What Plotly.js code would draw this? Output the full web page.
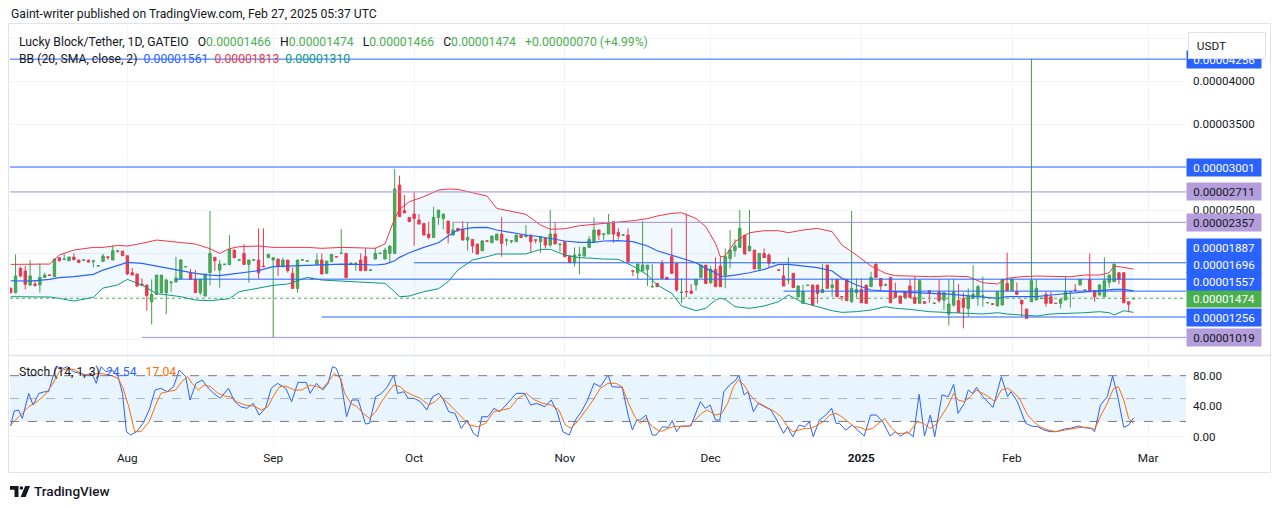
<!DOCTYPE html>
<html><head><meta charset="utf-8">
<script src="https://cdn.plot.ly/plotly-3.0.1.min.js"></script>
<style>html,body{margin:0;padding:0;background:#fff;}#chart{width:1281px;height:508px;}</style>
</head><body><div id="chart"></div>
<script>
// ---------- DATA (prices in micro-USDT, i.e. x 1e-6) ----------
const firstBarDate = '2024-07-08';
const missingDays = ['2024-08-20', '2024-09-20'];   // calendar days without a bar (time scale skips them)
const open = [15.9,15.4,18.22,17.91,16.28,16.39,16.28,17.17,17.46,17.25,
19.46,19.25,19.11,19.53,19.19,19.17,19.15,19.05,18.48,19.03,
19.57,19.19,20.22,20.23,19.69,17.71,17.56,16.39,16.28,14.34,
15.19,15.39,15.39,16.55,16.63,16.98,18.39,17.71,16.94,15.39,
15.00,17.71,19.50,18.02,18.67,18.64,20.35,19.17,19.96,18.68,
19.17,19.19,18.49,19.46,19.19,19.30,18.41,19.19,17.64,15.89,
19.17,19.05,17.06,18.68,19.19,17.64,18.99,19.59,19.94,19.96,
18.78,18.78,19.19,19.57,18.00,19.30,19.94,19.30,19.96,19.96,
27.91,24.93,24.15,24.54,23.84,23.45,22.21,21.82,24.15,24.03,
23.72,22.09,22.87,22.75,21.51,21.59,21.05,20.27,21.42,21.20,
21.51,22.21,21.49,21.38,21.32,22.09,21.90,22.09,21.54,21.32,
21.71,20.93,22.21,20.99,21.32,19.65,18.88,19.75,19.65,20.66,
21.32,22.68,22.19,22.21,23.65,22.40,22.07,22.09,17.94,17.71,
17.91,18.10,16.06,16.47,18.80,17.17,19.57,18.80,15.41,15.53,
15.58,16.28,17.17,18.60,16.55,18.10,18.49,17.44,19.38,20.27,
20.66,22.09,20.27,20.35,18.14,19.96,19.77,18.84,18.04,17.33,
16.86,17.64,14.92,14.15,16.22,16.28,16.28,15.39,18.60,15.97,
16.94,14.94,16.94,14.34,15.39,15.77,16.28,16.09,18.72,17.05,
16.26,17.17,15.50,15.00,15.50,16.16,14.84,14.15,14.34,15.62,
14.13,15.50,14.53,12.90,13.95,14.46,14.73,13.56,14.73,14.92,
14.98,14.20,14.09,13.87,13.95,16.47,15.62,15.50,14.53,13.49,
14.34,14.53,14.70,15.19,14.92,14.17,14.15,14.53,15.48,15.70,
16.28,15.66,16.94,15.62,15.11,14.92,16.59,16.67,17.71,17.71,
14.34,14.66];
const high = [16.0,19.85,18.41,18.49,19.19,16.78,18.80,17.71,17.50,19.38,
19.50,19.96,19.60,19.96,19.20,19.22,19.26,19.19,18.53,19.92,
19.57,20.89,20.25,20.23,19.69,18.26,17.56,17.05,16.28,16.94,
17.44,17.44,17.05,16.63,19.57,19.30,18.44,18.14,18.02,16.94,
17.56,24.89,19.50,19.19,18.70,22.09,20.35,19.22,21.05,19.19,
19.22,22.87,22.87,19.85,19.46,19.30,19.46,19.19,18.33,19.19,
19.22,19.10,17.07,19.96,19.96,19.07,19.85,19.60,22.79,19.96,
18.83,18.82,19.96,20.54,18.05,20.62,19.99,20.62,20.82,29.77,
29.00,26.75,24.15,27.06,24.54,23.45,23.65,25.39,25.00,24.54,
23.72,23.65,22.87,23.72,23.61,21.59,21.05,21.51,21.44,21.98,
22.21,24.15,21.71,21.51,22.09,22.09,23.26,22.09,21.56,21.90,
21.71,25.00,23.65,21.10,21.32,19.65,20.66,20.74,20.66,21.98,
24.15,22.68,22.29,24.54,23.65,22.87,22.12,22.87,17.95,18.72,
23.72,18.60,18.72,16.47,19.19,17.17,22.87,18.80,17.05,24.62,
16.39,16.94,18.60,18.60,18.49,19.50,19.57,20.54,22.68,21.59,
25.00,22.09,25.00,20.35,19.96,20.54,19.96,18.89,18.05,18.72,
19.50,17.64,16.28,16.28,16.27,16.28,16.28,18.72,18.60,17.05,
16.94,14.94,16.94,24.89,17.05,17.05,16.28,17.83,18.72,17.05,
16.47,17.17,16.55,15.00,15.50,16.94,17.25,16.94,14.34,15.62,
14.18,16.94,15.50,16.94,16.94,16.39,15.39,15.89,18.60,16.28,
17.25,14.25,14.10,15.50,16.94,20.04,17.05,16.59,14.53,13.49,
42.56,16.94,14.75,15.50,15.50,14.18,14.61,17.25,15.53,16.39,
16.94,15.71,19.96,15.62,16.39,19.50,17.44,18.72,17.71,17.71,
14.34,14.74];
const low = [15.3,15.3,17.17,15.77,16.16,16.09,15.39,17.17,17.35,17.25,
18.99,19.19,19.05,19.20,18.90,19.15,18.95,18.33,18.47,19.03,
19.19,19.19,20.04,19.69,17.44,17.44,16.09,16.16,13.29,11.70,
15.11,15.31,12.87,15.50,16.63,16.98,18.38,16.94,15.39,15.11,
15.00,16.24,17.95,15.97,18.67,18.64,19.46,19.15,18.68,16.55,
19.16,17.01,18.41,19.46,10.20,17.33,18.41,17.71,15.89,15.39,
19.15,19.04,16.99,18.68,17.56,17.64,18.99,19.54,19.94,17.13,
18.77,17.95,17.95,17.95,17.99,19.30,19.93,19.30,18.80,19.96,
24.23,24.60,23.65,20.85,23.37,22.09,21.63,21.82,23.26,22.75,
21.13,22.09,22.48,21.51,20.27,20.04,19.88,20.27,21.34,21.20,
21.51,19.57,20.85,21.13,21.32,21.71,21.90,20.04,21.13,20.04,
20.54,20.74,21.05,20.16,19.57,18.88,18.41,17.52,19.57,20.66,
21.32,21.51,21.51,22.21,21.20,21.59,22.06,18.99,17.33,16.94,
17.91,16.16,16.00,16.09,17.05,16.94,17.64,15.50,14.15,14.84,
15.31,15.62,17.17,16.39,16.39,16.09,16.09,15.89,18.22,19.57,
20.66,19.88,20.16,18.14,18.14,19.46,18.33,18.83,17.99,16.16,
16.39,15.97,14.84,14.15,16.21,13.95,14.15,15.39,15.89,14.92,
14.92,14.46,14.46,14.22,14.84,14.22,14.15,16.09,17.17,15.58,
16.16,14.22,14.84,14.15,14.84,14.84,14.15,14.15,14.15,14.22,
14.12,14.22,13.37,11.55,13.76,13.10,11.24,12.59,14.73,13.87,
13.76,14.19,14.04,13.76,13.95,15.62,15.62,15.19,12.59,12.40,
14.34,14.53,14.69,13.76,14.15,14.12,13.56,14.53,13.68,15.58,
16.28,15.65,15.50,14.34,15.11,14.92,15.97,16.67,16.39,14.22,
13.10,14.66];
const close = [15.4,17.33,17.33,16.36,17.33,16.24,17.17,17.44,17.40,19.30,
19.11,19.30,19.53,19.22,18.91,19.21,18.95,19.08,18.52,19.65,
19.49,20.27,20.25,19.69,17.56,17.44,16.16,16.24,15.04,15.19,
17.44,17.44,16.86,16.63,17.09,19.19,18.43,16.94,15.39,16.94,
17.56,19.96,19.11,18.72,18.70,20.39,19.46,19.21,18.68,19.19,
19.21,17.71,18.41,19.85,19.46,18.49,19.19,17.95,15.89,19.19,
19.21,19.09,17.00,19.19,17.56,19.07,19.85,19.55,19.98,17.13,
18.82,18.82,17.95,17.95,18.04,19.96,19.98,20.35,20.82,27.45,
24.23,24.69,23.65,24.03,23.37,22.09,21.82,24.15,25.00,24.54,
22.29,22.68,22.60,21.51,21.82,20.81,19.88,21.40,21.36,21.98,
22.21,21.13,21.53,21.42,22.09,21.82,22.09,21.32,21.50,21.90,
20.93,22.21,21.05,21.03,19.57,18.88,19.77,19.79,20.66,21.59,
22.68,22.09,22.23,23.53,22.21,21.98,22.11,18.99,17.90,18.72,
18.60,18.60,16.10,16.09,17.05,16.94,17.64,15.70,15.45,15.49,
15.31,16.94,18.60,16.47,18.10,16.09,16.09,19.57,20.35,20.81,
22.87,19.88,20.81,18.14,19.96,19.46,18.80,18.88,18.00,16.16,
16.90,15.97,16.16,15.50,16.26,13.95,15.31,15.77,15.89,16.28,
14.92,14.90,14.46,15.89,15.77,14.22,14.15,17.17,17.17,16.16,
16.30,14.22,14.84,14.15,14.84,14.84,14.15,16.78,14.15,15.39,
14.17,14.46,15.39,14.07,15.50,13.10,13.68,15.00,15.19,16.09,
15.02,14.24,14.05,15.50,16.94,15.62,16.94,15.19,14.07,12.40,
16.78,15.89,14.74,14.15,14.15,14.13,14.61,15.50,15.52,15.66,
16.94,15.70,15.50,14.92,16.28,16.78,17.44,18.72,16.94,14.22,
14.04,14.74];

// Bollinger Bands (20, SMA, close, 2); bar = bar number (0 = first bar)
const bbBar = [0,4,8,10,13,17,19,22,24,27,30,32,35,38,41,43,45,
47,51,54,57,61,64,68,71,75,77,79,80,82,85,88,90,
92,95,98,100,103,106,109,111,114,117,120,122,125,128,131,133,136,
138,141,143,145,146,147,149,152,155,158,160,163,166,169,171,174,177,180,182,
185,189,193,197,200,203,205,208,211,214,218,221,224,226,227,229,231];
const bbUpper = [18.68,18.68,18.72,19.77,20.35,20.66,20.66,20.89,20.82,21.13,21.51,21.40,21.20,21.05,20.51,19.96,20.51,
20.74,20.82,20.66,20.66,20.66,20.55,20.66,20.62,20.55,21.05,24.03,25.08,25.97,26.56,27.33,27.45,
27.41,27.02,26.63,25.20,24.81,24.50,23.26,22.76,22.83,23.18,23.34,23.45,23.57,23.76,24.00,24.31,24.62,
24.69,24.03,23.07,21.13,19.58,19.65,21.32,22.37,22.60,22.60,22.37,22.68,22.87,22.48,20.93,19.77,18.49,17.64,17.37,
17.33,17.25,17.33,17.25,16.55,16.40,17.06,17.25,17.33,17.33,17.25,17.44,17.44,17.71,18.49,18.33,18.13];
const bbBasis = [16.78,16.74,16.94,17.13,17.25,17.52,18.02,18.61,18.92,18.80,18.49,18.22,17.95,17.64,17.44,17.37,17.52,
17.64,17.95,18.41,18.49,18.61,18.68,18.72,18.68,18.61,18.72,19.11,19.50,20.04,20.66,21.20,21.98,
22.68,22.95,22.99,22.68,22.37,22.10,21.90,21.67,21.40,21.24,21.24,21.40,21.44,21.32,20.82,20.27,19.77,
19.38,18.88,18.22,17.71,17.33,17.29,17.44,17.71,18.10,18.68,18.68,18.49,18.30,17.91,17.06,16.28,15.70,15.58,15.50,
15.39,15.31,15.23,15.00,14.84,14.73,14.92,14.92,14.92,15.12,15.31,15.50,15.62,15.70,15.78,15.78,15.61];
const bbLower = [14.92,14.92,14.88,14.73,14.42,14.84,15.93,16.28,16.94,16.28,15.27,15.15,14.92,14.53,14.46,14.57,14.69,
15.50,15.89,16.24,16.40,17.17,16.86,16.74,16.63,16.55,16.47,15.50,14.92,15.00,15.50,15.85,16.67,
18.02,19.19,19.58,19.89,19.89,19.89,20.43,20.43,19.77,19.46,19.38,19.30,19.27,18.49,17.44,16.28,15.31,
13.84,13.29,13.57,14.53,14.73,14.61,13.76,13.57,13.84,14.34,15.12,14.22,13.76,13.29,13.10,13.18,13.37,13.76,13.57,
13.45,13.18,13.10,12.98,12.91,13.06,12.91,12.79,12.67,12.91,12.98,13.06,13.18,13.06,12.79,13.29,13.10];

// Stochastic (14, 1, 3); position in bars (0 = first bar)
const kBar = [0,0.7,1.6,2.4,3.7,4.6,5.8,7.0,7.8,8.7,9.5,10.8,11.7,12.9,14.2,15.5,16.7,17.6,18.6,19.6,
20.9,22.1,23.0,23.8,24.7,25.9,27.2,28.5,29.7,30.9,32.2,33.5,34.7,36.0,36.9,38.1,39.4,40.7,41.8,43.1,
44.8,46.1,47.3,48.6,49.9,51.1,52.4,53.6,54.9,56.6,57.8,59.1,60.8,61.6,62.9,64.2,65.3,66.2,67.0,67.9,
69.1,70.2,71.5,73.0,73.8,75.1,76.3,77.5,78.8,79.6,80.9,81.8,83.0,84.3,85.6,86.8,88.1,88.9,90.1,91.4,
92.7,93.9,95.2,96.1,96.9,98.2,99.4,100.6,101.9,104.0,105.7,107.0,108.2,109.9,111.2,112.4,113.6,114.9,116.2,117.4,
118.7,120.0,121.3,122.9,123.7,125.8,127.1,127.9,128.8,
129.5,130.7,132.0,132.8,134.1,135.3,136.1,137.0,137.8,138.7,139.9,140.8,141.9,142.9,143.9,145.0,145.9,146.7,147.9,149.2,
149.8,150.9,151.7,152.8,153.8,155.1,156.4,157.6,159.0,159.8,160.9,162.2,163.4,164.3,165.1,166.4,167.7,168.9,169.8,170.5,
171.8,173.1,174.3,175.6,176.9,178.1,179.4,180.9,182.0,183.1,184.4,185.7,186.9,188.0,189.2,190.1,191.6,192.9,194.0,194.9,
196.2,197.0,197.9,198.7,200.0,201.2,202.1,203.8,205.1,205.8,207.1,208.8,210.0,211.3,212.6,213.8,215.1,216.8,218.0,219.7,
220.9,222.2,223.0,224.2,225.6,226.7,227.7,229.0,230.0,231.0];
const kVal = [14.0,33.7,35.0,24.0,56.8,41.5,56.8,59.0,59.0,78.7,91.8,89.6,91.8,85.2,83.1,80.9,83.1,69.9,91.8,85.2,
87.4,78.7,56.8,6.6,2.2,6.6,17.5,35.0,61.2,63.4,59.0,65.6,87.4,78.7,48.1,69.9,74.3,63.4,56.8,50.3,
63.4,45.9,39.3,37.2,43.7,28.4,37.2,63.4,69.9,63.4,45.9,71.2,71.2,56.8,69.9,61.2,69.9,91.8,89.6,74.3,
26.2,48.1,48.1,16.6,17.5,52.5,56.8,65.6,80.9,56.8,59.0,50.3,50.3,45.9,35.0,52.5,56.8,50.3,32.8,30.6,
10.9,21.9,4.4,0.0,26.2,26.2,37.2,32.8,41.5,56.8,56.8,41.5,43.7,39.3,48.1,32.8,6.6,2.2,21.9,32.8,
48.1,69.9,65.6,80.9,65.6,64.7,26.2,8.7,21.9,
21.9,28.4,2.2,2.2,13.1,12.2,21.0,6.6,14.0,14.0,14.0,28.4,45.9,37.2,41.5,21.9,21.9,59.0,67.8,74.3,
80.9,54.7,59.0,32.8,43.7,39.3,35.0,21.9,4.4,13.1,0.0,15.3,13.1,19.7,0.0,21.9,28.4,37.2,17.5,17.5,
8.7,15.3,8.7,0.9,28.4,28.4,19.7,0.9,6.6,0.9,6.6,0.0,55.5,0.9,28.4,0.0,54.7,52.5,68.6,30.6,
43.7,61.2,56.8,64.7,52.5,43.7,38.5,78.7,52.5,59.0,45.9,17.5,14.0,13.1,8.7,6.6,6.6,10.1,10.9,14.0,
11.8,10.9,6.6,41.5,52.5,79.6,54.7,12.2,15.3,24.54];
const dBar = [0,2.0,3.7,5.4,7.0,8.7,10.0,11.7,13.3,15.0,16.7,18.3,20.4,22.1,23.0,24.3,25.5,26.8,28.5,29.7,
30.9,32.2,33.9,35.2,36.4,37.3,38.6,39.8,41.1,42.7,44.0,45.2,46.5,48.2,49.9,51.6,52.9,54.0,55.3,56.6,
58.3,59.9,61.6,62.9,64.2,65.3,66.6,67.9,68.7,70.0,71.3,72.5,73.8,75.1,76.3,77.5,78.8,80.1,81.3,82.6,
84.3,86.0,87.3,88.4,89.7,91.0,92.7,94.4,96.1,97.7,99.4,101.0,102.7,104.4,106.1,107.8,109.5,111.2,112.8,114.1,
115.3,116.6,117.9,119.6,121.3,122.9,124.5,125.8,127.1,128.4,
129.5,130.7,132.0,133.7,135.3,136.6,137.8,139.5,140.8,142.1,143.3,145.0,146.3,147.5,148.7,149.7,150.9,152.1,153.4,154.6,
155.9,157.2,158.5,159.6,160.9,162.2,163.4,164.7,166.0,167.2,168.5,169.8,171.0,172.2,173.5,174.8,176.0,177.3,178.6,179.8,
181.1,182.3,183.6,184.8,186.5,187.8,189.1,190.3,191.6,192.9,194.0,194.9,196.2,197.4,198.7,200.0,201.2,202.5,203.8,205.1,
206.2,207.5,209.2,210.5,211.7,213.4,215.1,216.8,218.4,220.0,221.7,223.0,224.3,225.6,226.9,227.9,229.0,230.0,231.0];
const dVal = [15.3,28.4,39.3,45.9,54.7,70.0,85.3,89.6,87.4,80.9,80.9,83.1,80.9,76.5,65.6,39.3,6.6,6.6,19.7,39.3,
56.8,59.0,61.2,72.1,78.7,70.0,61.2,67.8,65.6,56.8,53.3,52.5,45.9,41.5,40.2,35.0,39.3,52.5,65.6,66.5,
61.2,61.2,67.8,65.6,63.4,72.1,83.1,76.5,56.8,43.7,39.3,30.6,24.0,32.8,45.9,56.8,67.8,65.6,59.0,54.7,
50.3,41.5,45.9,52.5,45.9,37.2,26.2,15.3,13.1,17.5,32.8,35.0,37.2,50.3,56.8,48.1,43.7,41.5,35.0,15.3,
10.9,19.7,30.6,45.9,63.4,70.0,70.0,65.6,43.7,26.2,
17.5,24.0,13.1,6.6,10.9,14.0,13.1,14.0,21.9,30.6,35.0,28.4,30.6,43.7,65.6,74.3,67.8,54.7,45.9,41.5,
37.2,32.8,26.2,15.3,6.6,8.7,10.9,10.9,15.3,19.7,28.4,30.6,26.2,19.7,13.1,12.2,8.7,10.9,17.5,24.0,
12.2,4.4,4.4,5.2,19.7,17.5,10.9,15.3,28.4,41.5,56.8,48.1,45.9,52.5,61.2,56.8,52.5,45.9,61.2,63.4,
59.0,50.3,28.4,19.7,13.1,8.7,6.6,8.7,10.9,12.2,12.2,9.6,28.4,43.7,63.4,65.6,48.1,24.0,17.04];

// Drawn horizontal levels: value and the bar the ray starts from (null = whole chart)
const levelValue = [42.56, 30.01, 27.11, 23.57, 18.87, 16.96, 15.57, 12.56, 10.19];
const levelFromBar = [null, null, null, 91, 83, 34, 159, 64, 27];
const levelKind = ['blue','blue','purple','purple','blue','blue','blue','blue','purple'];
const lastPrice = 14.74, lastOpen = 14.66, lastHigh = 14.74, lastLow = 14.66, change = 0.70, changePct = 4.99;
const stochK = 24.54, stochD = 17.04;
const bbNow = {basis: 15.61, upper: 18.13, lower: 13.10};
const monthTicks = ['2024-08-01','2024-09-01','2024-10-01','2024-11-01','2024-12-01','2025-01-01','2025-02-01','2025-03-01'];
const monthLabels = ['Aug','Sep','Oct','Nov','Dec','<b>2025</b>','Feb','Mar'];
const priceTicks = [10,15,20,25,30,35,40,45];
const stochTicks = [0,40,80];

// ---------- RENDER ----------
const U = 1e-6, DAY = 86400000;
const T0 = Date.parse(firstBarDate + 'T00:00:00Z');
const missMs = missingDays.map(d => Date.parse(d + 'T00:00:00Z'));
const barMs = [];
{ let t = T0; for (let i = 0; i < open.length; i++) { while (missMs.includes(t)) t += DAY; barMs.push(t); t += DAY; } }
const iso = ms => new Date(ms).toISOString().slice(0,19).replace('T',' ');
const barToMs = b => { const n = barMs.length - 1;
  if (b >= n) return barMs[n] + (b - n) * DAY; if (b <= 0) return barMs[0] + b * DAY;
  const i = Math.floor(b); return barMs[i] + (b - i) * DAY; };
const bx = b => iso(barToMs(b));
const fmt = v => (v*U).toFixed(8);

const W=1281, H=508, L=10, R=95, T=25, B=61;
const PW = W-L-R, PH = H-T-B;
const px = x => (x-L)/PW, py = y => 1-(y-T)/PH;
const priceTopPx = 25, priceBotPx = 355, stochTopPx = 356;
const pRange = [8.14, 46.53];
const sRange = [-13.5, 105.8];
const barPx = 4.8607, firstBarPx = 10.7;              // time-scale geometry
const xr0 = bx((L - firstBarPx)/barPx), xr1 = bx((L + PW - firstBarPx)/barPx);
const priceToPx = v => priceTopPx + (pRange[1]-v)/(pRange[1]-pRange[0])*(priceBotPx-priceTopPx);

const BLUE='#2962ff', RED='#f23645', GREEN='#4caf50', TEAL='#089981', ORANGE='#ff6d00', PURPLE='#b39ddb', TXT='#131722';
const FONT = 'Roboto, Arial, sans-serif';
const FS = 12.2;

const traces = [
  {type:'scatter', mode:'lines', x: bbBar.map(bx), y: bbLower.map(v=>v*U), line:{color:TEAL, width:1}, hoverinfo:'skip', xaxis:'x', yaxis:'y'},
  {type:'scatter', mode:'lines', x: bbBar.map(bx), y: bbUpper.map(v=>v*U), line:{color:RED, width:1}, fill:'tonexty', fillcolor:'rgba(33,150,243,0.06)', hoverinfo:'skip', xaxis:'x', yaxis:'y'},
  {type:'scatter', mode:'lines', x: bbBar.map(bx), y: bbBasis.map(v=>v*U), line:{color:BLUE, width:1.2}, hoverinfo:'skip', xaxis:'x', yaxis:'y'},
  {type:'candlestick', x: barMs.map(iso), open: open.map(v=>v*U), high: high.map(v=>v*U), low: low.map(v=>v*U), close: close.map(v=>v*U),
   increasing:{line:{color:'#43a047', width:1}, fillcolor:GREEN}, decreasing:{line:{color:RED, width:1}, fillcolor:RED},
   whiskerwidth:0, xaxis:'x', yaxis:'y', hoverinfo:'skip'},
  {type:'scatter', mode:'lines', x: kBar.map(bx), y: kVal, line:{color:BLUE, width:1}, hoverinfo:'skip', xaxis:'x', yaxis:'y2'},
  {type:'scatter', mode:'lines', x: dBar.map(bx), y: dVal, line:{color:ORANGE, width:1}, hoverinfo:'skip', xaxis:'x', yaxis:'y2'}
];

const shapes = [];
shapes.push({type:'rect', xref:'paper', yref:'y2', x0:0, x1:1, y0:20, y1:80, fillcolor:'rgba(33,150,243,0.1)', line:{width:0}, layer:'below'});
[[80,'#787b86'],[50,'rgba(120,123,134,0.55)'],[20,'#787b86']].forEach(([v,c]) =>
  shapes.push({type:'line', xref:'paper', yref:'y2', x0:0, x1:1, y0:v, y1:v, line:{color:c, width:1, dash:'dash'}}));
levelValue.forEach((v,i) => {
  shapes.push({type:'line', xref:'x', yref:'y', x0: levelFromBar[i]===null ? xr0 : bx(levelFromBar[i]), x1: xr1,
    y0: v*U, y1: v*U, line:{color: levelKind[i]==='blue' ? BLUE : '#a48fd6', width:1}});
});
shapes.push({type:'line', xref:'paper', yref:'y', x0:0, x1:1, y0:lastPrice*U, y1:lastPrice*U, line:{color:GREEN, width:1, dash:'dot'}});
shapes.push({type:'rect', xref:'paper', yref:'paper', x0:px(8.5), x1:px(1270.5), y0:py(472.5), y1:py(23.5), line:{color:'#e0e3eb', width:1}, fillcolor:'rgba(0,0,0,0)'});
shapes.push({type:'line', xref:'paper', yref:'paper', x0:px(8.5), x1:px(1270.5), y0:py(355.5), y1:py(355.5), line:{color:'#e0e3eb', width:1.5}});
// TradingView logo mark
shapes.push({type:'path', xref:'paper', yref:'paper', fillcolor:TXT, line:{width:0},
  path:`M ${px(10)} ${py(486)} L ${px(18.5)} ${py(486)} L ${px(18.5)} ${py(497)} L ${px(14.5)} ${py(497)} L ${px(14.5)} ${py(489.7)} L ${px(10)} ${py(489.7)} Z`});
shapes.push({type:'circle', xref:'paper', yref:'paper', fillcolor:TXT, line:{width:0}, x0:px(19.6), x1:px(23.2), y0:py(489.8), y1:py(486.2)});
shapes.push({type:'path', xref:'paper', yref:'paper', fillcolor:TXT, line:{width:0},
  path:`M ${px(25.2)} ${py(486)} L ${px(30)} ${py(486)} L ${px(25.6)} ${py(497)} L ${px(20.6)} ${py(497)} Z`});

const ann = [];
const A = (x, y, text, opt={}) => ann.push(Object.assign({xref:'paper', yref:'paper', x:px(x), y:py(y), text, showarrow:false,
  xanchor:'left', yanchor:'middle', font:{family:FONT, size:FS, color:TXT}}, opt));
const sp = '\u00a0\u00a0\u00a0', sp2 = '\u00a0\u00a0';
const g = s => `<span style="color:${GREEN}">${s}</span>`;
A(9, 14, 'Gaint-writer published on TradingView.com, Feb 27, 2025 05:37 UTC');
A(17, 42, `Lucky Block/Tether, 1D, GATEIO${sp}O${g(fmt(lastOpen))}${sp}H${g(fmt(lastHigh))}${sp}L${g(fmt(lastLow))}${sp}C${g(fmt(lastPrice))}${sp}${g('+' + fmt(change) + ' (+' + changePct.toFixed(2) + '%)')}`);
A(17, 59, `BB (20, SMA, close, 2)${sp2}<span style="color:${BLUE}">${fmt(bbNow.basis)}</span>${sp2}<span style="color:${RED}">${fmt(bbNow.upper)}</span>${sp2}<span style="color:${TEAL}">${fmt(bbNow.lower)}</span>`);
A(17, 372, `Stoch (14, 1, 3)${sp2}<span style="color:${BLUE}">${stochK.toFixed(2)}</span>${sp}<span style="color:${ORANGE}">${stochD.toFixed(2)}</span>`);
A(32, 491, 'TradingView', {font:{family:FONT, size:13.6, color:TXT, weight:500}});

// price-scale labels, stacked upward so they do not overlap
const labels = levelValue.map((v,i)=>({v, bg: levelKind[i]==='blue'?BLUE:PURPLE, fg: levelKind[i]==='blue'?'#ffffff':TXT}));
labels.push({v:lastPrice, bg:GREEN, fg:'#ffffff'});
labels.sort((a,b)=>a.v-b.v);
let prev = Infinity;
labels.forEach(l => { let y = priceToPx(l.v); if (y > prev - 17) y = prev - 17; prev = y; l.y = y; });
labels.forEach(l => A(1186, l.y, fmt(l.v), {bgcolor:l.bg, width:70, height:13, borderpad:2, align:'center',
  font:{family:FONT, size:11.6, color:l.fg}}));
A(1188, 45, '\u00a0\u00a0USDT', {bgcolor:'#ffffff', bordercolor:'#e0e3eb', borderwidth:1, width:72, height:21, borderpad:2, align:'left',
  font:{family:FONT, size:11.8, color:TXT}});

const hidden = new Set([10,15,20,30,45]);
const layout = {
  width:W, height:H, autosize:false, margin:{l:L, r:R, t:T, b:B, pad:0},
  paper_bgcolor:'#ffffff', plot_bgcolor:'#ffffff', showlegend:false, dragmode:false,
  xaxis:{type:'date', range:[xr0, xr1], anchor:'y2', rangebreaks:[{values: missingDays}],
    tickvals: monthTicks, ticktext: monthLabels,
    showgrid:true, gridcolor:'#f0f3fa', gridwidth:1, zeroline:false, showline:false, ticks:'',
    tickfont:{family:FONT, size:11.8, color:TXT}, ticklabelstandoff:2, rangeslider:{visible:false}, fixedrange:true},
  yaxis:{domain:[py(priceBotPx), 1], range:pRange.map(v=>v*U), side:'right', anchor:'x',
    tickvals: priceTicks.map(v=>v*U), ticktext: priceTicks.map(v=> hidden.has(v) ? '' : fmt(v)),
    showgrid:true, gridcolor:'#f0f3fa', zeroline:false, showline:false, ticks:'', ticklabelstandoff:6,
    tickfont:{family:FONT, size:11.6, color:TXT}, fixedrange:true},
  yaxis2:{domain:[0, py(stochTopPx)], range:sRange, side:'right', anchor:'x',
    tickvals: stochTicks, ticktext: stochTicks.map(v=>v.toFixed(2)),
    showgrid:true, gridcolor:'#f0f3fa', zeroline:false, showline:false, ticks:'', ticklabelstandoff:6,
    tickfont:{family:FONT, size:11.6, color:TXT}, fixedrange:true},
  shapes, annotations: ann
};
Plotly.newPlot('chart', traces, layout, {displayModeBar:false, staticPlot:true});
</script></body></html>
